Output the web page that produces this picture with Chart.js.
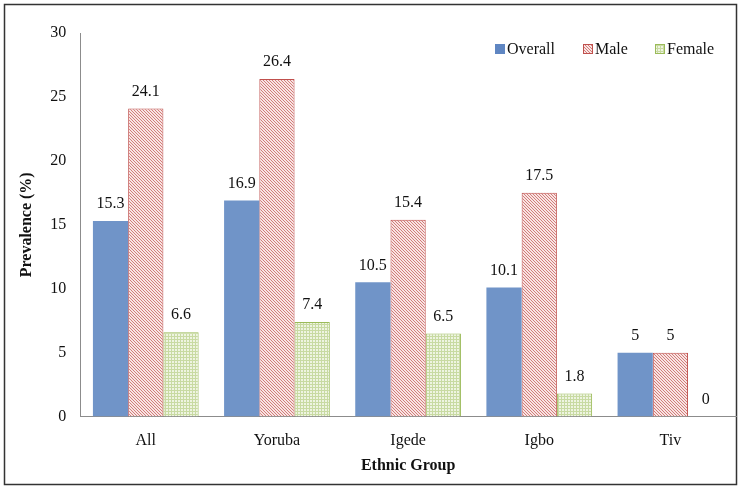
<!DOCTYPE html>
<html>
<head>
<meta charset="utf-8">
<script src="https://cdn.jsdelivr.net/npm/chart.js@4/dist/chart.umd.min.js"></script>
<style>
  html, body { margin: 0; padding: 0; background: #fff; }
  #wrap { width: 742px; height: 490px; position: relative; }
</style>
</head>
<body>
<div id="wrap"><canvas id="c" width="742" height="490"></canvas></div>
<script>
const categories = ["All", "Yoruba", "Igede", "Igbo", "Tiv"];
const overall = [15.3, 16.9, 10.5, 10.1, 5];
const male = [24.1, 26.4, 15.4, 17.5, 5];
const female = [6.6, 7.4, 6.5, 1.8, 0];
const seriesNames = ["Overall", "Male", "Female"];
const yTicks = [0, 5, 10, 15, 20, 25, 30];

const FONT = "'Liberation Serif', 'Times New Roman', serif";

function makeMalePattern() {
  const c = document.createElement('canvas');
  c.width = 3; c.height = 3;
  const g = c.getContext('2d');
  g.fillStyle = '#F8E4E3';
  g.fillRect(0, 0, 3, 3);
  g.fillStyle = '#D27C79';
  for (let i = 0; i < 3; i++) { g.fillRect(i, i, 1, 1); }
  return g.createPattern(c, 'repeat');
}
function makeFemalePattern() {
  const c = document.createElement('canvas');
  c.width = 3; c.height = 3;
  const g = c.getContext('2d');
  g.fillStyle = '#EEF4E1';
  g.fillRect(0, 0, 3, 3);
  g.fillStyle = '#C8DAA2';
  g.fillRect(0, 0, 3, 1);
  g.fillRect(0, 0, 1, 3);
  return g.createPattern(c, 'repeat');
}
const ctx = document.getElementById('c').getContext('2d');
const malePat = makeMalePattern();
const femalePat = makeFemalePattern();
const overallColor = '#7094C8';

const fills = [overallColor, malePat, femalePat];
const borders = [overallColor, '#C0504D', '#9BBB59'];
const legendMarkerFill = ['#5F86C2', '#E8B2B0', '#C9DCA5'];

const framePlugin = {
  id: 'frame',
  beforeDraw(chart) {
    const g = chart.ctx;
    g.save();
    g.fillStyle = '#fff';
    g.fillRect(0, 0, chart.width, chart.height);
    g.strokeStyle = '#333';
    g.lineWidth = 1.5;
    g.strokeRect(4.5, 4.5, 732, 480);
    g.restore();
  }
};

const labelPlugin = {
  id: 'vlabels',
  afterDatasetsDraw(chart) {
    const g = chart.ctx;
    g.save();
    g.font = "16px " + FONT;
    g.fillStyle = '#111';
    g.textAlign = 'center';
    g.textBaseline = 'middle';
    chart.data.datasets.forEach((ds, di) => {
      const meta = chart.getDatasetMeta(di);
      meta.data.forEach((bar, i) => {
        g.fillText(String(ds.data[i]), bar.x, bar.y - 17);
      });
    });
    g.restore();
  }
};

const legendPlugin = {
  id: 'customLegend',
  afterDraw(chart) {
    const g = chart.ctx;
    g.save();
    g.font = "16px " + FONT;
    g.textBaseline = 'middle';
    g.textAlign = 'left';
    const items = [{x: 495}, {x: 583}, {x: 655}];
    const y = 49;
    items.forEach((it, i) => {
      g.fillStyle = i === 0 ? legendMarkerFill[0] : fills[i];
      g.fillRect(it.x, y - 5, 10, 10);
      if (i > 0) {
        g.strokeStyle = borders[i];
        g.lineWidth = 1;
        g.strokeRect(it.x + 0.5, y - 4.5, 9, 9);
      }
      g.fillStyle = '#111';
      g.fillText(seriesNames[i], it.x + 12, y + 1);
    });
    g.restore();
  }
};

new Chart(ctx, {
  type: 'bar',
  data: {
    labels: categories,
    datasets: [
      { label: seriesNames[0], data: overall, backgroundColor: fills[0], borderColor: borders[0], borderWidth: 0 },
      { label: seriesNames[1], data: male, backgroundColor: fills[1], borderColor: borders[1], borderWidth: 1 },
      { label: seriesNames[2], data: female, backgroundColor: fills[2], borderColor: borders[2], borderWidth: 1 }
    ]
  },
  options: {
    responsive: false,
    animation: false,
    devicePixelRatio: 1,
    layout: { padding: { left: 6, right: 6, top: 33, bottom: 15 } },
    datasets: { bar: { categoryPercentage: 0.806, barPercentage: 1.0 } },
    plugins: {
      legend: { display: false },
      tooltip: { enabled: false }
    },
    scales: {
      x: {
        grid: { display: false, drawTicks: false },
        border: { display: true, color: '#8C8C8C', width: 1 },
        ticks: { color: '#111', font: { family: FONT, size: 16 }, padding: 15 },
        title: { display: true, text: 'Ethnic Group', color: '#111', font: { family: FONT, size: 16, weight: 'bold' }, padding: { top: -10, bottom: 0 } }
      },
      y: {
        min: 0, max: 30,
        afterBuildTicks(scale) { scale.ticks = yTicks.map(v => ({ value: v })); },
        grid: { display: false, drawTicks: false },
        border: { display: true, color: '#8C8C8C', width: 1 },
        ticks: { color: '#111', font: { family: FONT, size: 16 }, padding: 14 },
        title: { display: true, text: 'Prevalence (%)', color: '#111', font: { family: FONT, size: 16, weight: 'bold' }, padding: { top: 11, bottom: 0 } }
      }
    }
  },
  plugins: [framePlugin, labelPlugin, legendPlugin]
});
</script>
</body>
</html>
